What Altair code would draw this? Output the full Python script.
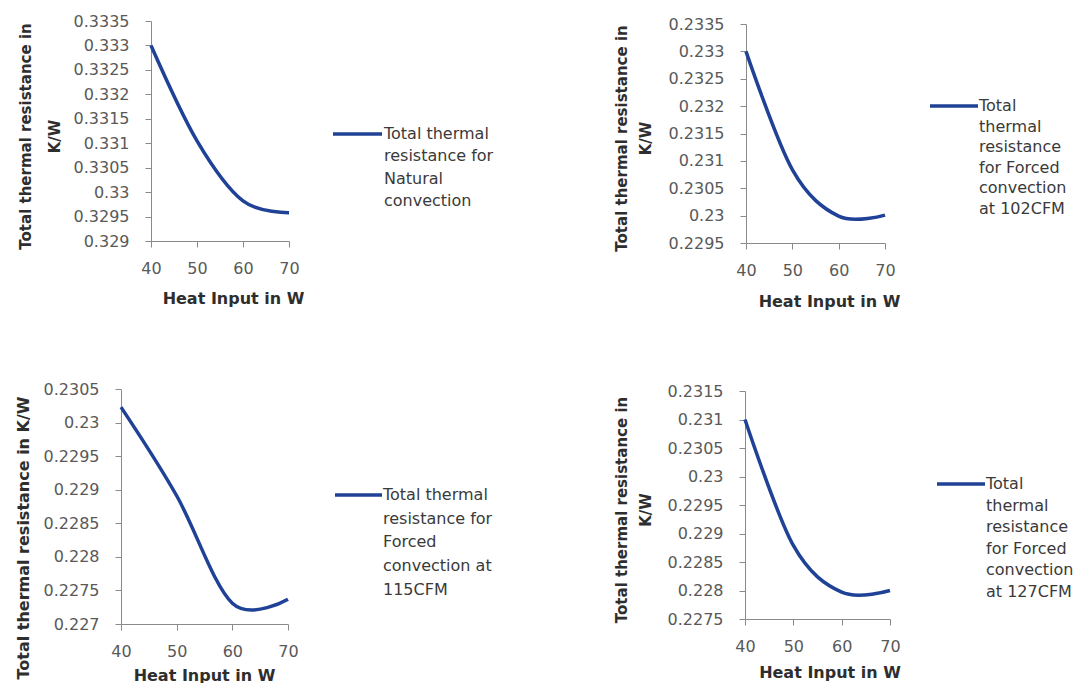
import altair as alt
import pandas as pd

# ---- data ----
heat_input = [40, 50, 60, 70]
r_natural = [0.33300, 0.33105, 0.32982, 0.32958]
r_102cfm = [0.23300, 0.23084, 0.22999, 0.23001]
r_115cfm = [0.23023, 0.22891, 0.22731, 0.22737]
r_127cfm = [0.23100, 0.22879, 0.22797, 0.22800]

x_ticks = [40, 50, 60, 70]
y_ticks_natural = [0.329, 0.3295, 0.33, 0.3305, 0.331, 0.3315, 0.332, 0.3325, 0.333, 0.3335]
y_ticks_102 = [0.2295, 0.23, 0.2305, 0.231, 0.2315, 0.232, 0.2325, 0.233, 0.2335]
y_ticks_115 = [0.227, 0.2275, 0.228, 0.2285, 0.229, 0.2295, 0.23, 0.2305]
y_ticks_127 = [0.2275, 0.228, 0.2285, 0.229, 0.2295, 0.23, 0.2305, 0.231, 0.2315]

x_title = "Heat Input in W"
y_title_two = ["Total thermal resistance in", "K/W"]
y_title_one = "Total thermal resistance in K/W"

legend_natural = ["Total thermal", "resistance for", "Natural", "convection"]
legend_102 = ["Total", "thermal", "resistance", "for Forced", "convection", "at 102CFM"]
legend_115 = ["Total thermal", "resistance for", "Forced", "convection at", "115CFM"]
legend_127 = ["Total", "thermal", "resistance", "for Forced", "convection", "at 127CFM"]

LINE = "#1f4196"
FONT = "DejaVu Sans"


def panel(values, y_ticks, y_title, legend_lines, width, height, x_range, y_range, y_offset,
          yt_x, yt_y, yt_lh, yt_size, xt_x, xt_y,
          rule_x1, rule_x2, rule_y, text_x, text_lh):
    df = pd.DataFrame({"heat": heat_input, "r": values})
    xscale = dict(domain=[x_ticks[0], x_ticks[-1]], nice=False, zero=False)
    if x_range is not None:
        xscale["range"] = x_range
    yscale = dict(domain=[y_ticks[0], y_ticks[-1]], nice=False, zero=False)
    if y_range is not None:
        yscale["range"] = y_range
    line = alt.Chart(df).mark_line(
        interpolate="cardinal", color=LINE, strokeWidth=3.5
    ).encode(
        x=alt.X("heat:Q", scale=alt.Scale(**xscale),
                axis=alt.Axis(values=x_ticks, title=x_title, titleX=xt_x, titleY=xt_y,
                              titleBaseline="middle", titleAlign="center",
                              labelPadding=13, labelFlush=False)),
        y=alt.Y("r:Q", scale=alt.Scale(**yscale),
                axis=alt.Axis(values=y_ticks, format=".4~f", title=y_title,
                              titleX=yt_x, titleY=yt_y, titleLineHeight=yt_lh,
                              titleFontSize=yt_size, titleBaseline="middle",
                              titleAlign="center", titleAngle=270,
                              labelPadding=16, labelFlush=False, offset=y_offset)),
    )
    leg_df = pd.DataFrame({"label": ["\n".join(legend_lines)]})
    rule = alt.Chart(leg_df).mark_rule(color=LINE, strokeWidth=3.5).encode(
        x=alt.value(rule_x1), x2=alt.value(rule_x2), y=alt.value(rule_y)
    )
    text = alt.Chart(leg_df).mark_text(
        align="left", baseline="middle", lineBreak="\n", lineHeight=text_lh,
        fontSize=16, font=FONT, color="#3a3a3a"
    ).encode(x=alt.value(text_x), y=alt.value(rule_y), text="label:N")
    return alt.layer(line, rule, text).properties(width=width, height=height)


p1 = panel(r_natural, y_ticks_natural, y_title_two, legend_natural, 138, 220, None, None, 0,
           -125.5, 115, 29, 15, 82, 57,
           182, 231, 113, 233, 22.3)
p2 = panel(r_102cfm, y_ticks_102, y_title_two, legend_102, 139, 222, None, [222, 3], 0,
           -125, 117, 24, 15, 83, 58,
           184, 232, 85, 233, 20.6)
p3 = panel(r_115cfm, y_ticks_115, y_title_one, legend_115, 137, 235, [-30, 137], None, 30,
           -98, 148.5, 20, 16, 53, 51,
           184, 231, 106, 232, 23.7)
p4 = panel(r_127cfm, y_ticks_127, y_title_two, legend_127, 145, 230, None, [230, 2], 0,
           -124, 120.5, 24, 15, 84.5, 53,
           192, 240, 95, 241, 21.6)

row1 = alt.hconcat(p1, p2, spacing=457, bounds="flush")
row2 = alt.hconcat(p3, p4, spacing=457, bounds="flush")

chart = alt.vconcat(row1, row2, spacing=72).properties(
    padding={"left": 7, "top": 5, "right": 5, "bottom": 0}
).configure_view(stroke=None).configure_axis(
    grid=False,
    domainColor="#8a8a8a",
    tickColor="#8a8a8a",
    tickSize=6,
    labelFont=FONT,
    labelFontSize=16,
    labelColor="#595959",
    titleFont=FONT,
    titleFontSize=16,
    titleFontWeight="bold",
    titleColor="#2e2e2e",
)

chart.save("out.html", embed_options={"renderer": "svg", "actions": False})
